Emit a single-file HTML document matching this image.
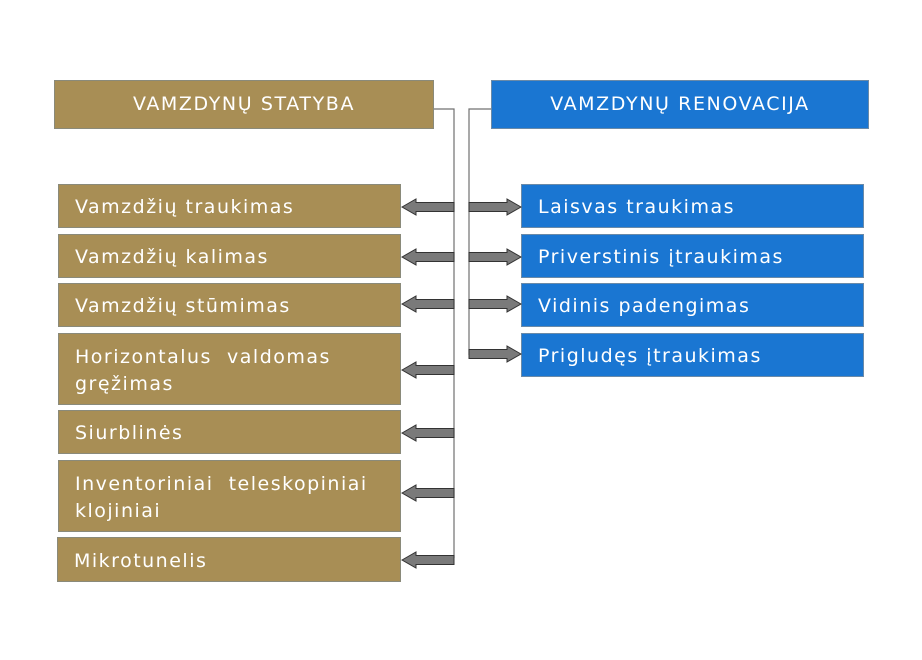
<!DOCTYPE html>
<html><head><meta charset="utf-8"><style>
body{margin:0;width:922px;height:660px;background:#fff;position:relative;overflow:hidden;font-family:"DejaVu Sans","Liberation Sans",sans-serif;}
.b{position:absolute;color:#fff;box-sizing:border-box;border:1px solid #8a8a7a;font-size:19px;letter-spacing:1.5px;line-height:27px;padding-left:16px;padding-top:3px;display:flex;align-items:center;}
.br{background:#A88E55;}
.bl{background:#1A76D2;border-color:#6a8aa8;}
.h{justify-content:center;padding-left:0;padding-top:0;font-size:19px;letter-spacing:1.6px;}
svg{position:absolute;left:0;top:0;}
</style></head><body>
<div class="b br h" style="left:54px;top:80px;width:380px;height:49px;">VAMZDYNŲ STATYBA</div>
<div class="b bl h" style="left:491px;top:80px;width:378px;height:49px;">VAMZDYNŲ RENOVACIJA</div>

<div class="b br" style="left:58px;top:184px;width:343px;height:44px;">Vamzdžių traukimas</div>
<div class="b br" style="left:58px;top:234px;width:343px;height:44px;">Vamzdžių kalimas</div>
<div class="b br" style="left:58px;top:283px;width:343px;height:44px;">Vamzdžių stūmimas</div>
<div class="b br" style="left:58px;top:333px;width:343px;height:72px;">Horizontalus&nbsp; valdomas<br>gręžimas</div>
<div class="b br" style="left:58px;top:410px;width:343px;height:44px;">Siurblinės</div>
<div class="b br" style="left:58px;top:460px;width:343px;height:72px;">Inventoriniai&nbsp; teleskopiniai<br>klojiniai</div>
<div class="b br" style="left:57px;top:537px;width:344px;height:45px;">Mikrotunelis</div>

<div class="b bl" style="left:521px;top:184px;width:343px;height:44px;">Laisvas traukimas</div>
<div class="b bl" style="left:521px;top:234px;width:343px;height:44px;">Priverstinis įtraukimas</div>
<div class="b bl" style="left:521px;top:283px;width:343px;height:44px;">Vidinis padengimas</div>
<div class="b bl" style="left:521px;top:333px;width:343px;height:44px;">Prigludęs įtraukimas</div>

<svg width="922" height="660">
<g stroke="#707070" stroke-width="1.2" fill="none">
<polyline points="434,109 454,109 454,558"/>
<polyline points="491,109 469,109 469,355"/>
</g>
<defs>
<path id="al" d="M0,0 L14,-8 L14,-4.5 L52,-4.5 L52,4.5 L14,4.5 L14,8 Z" fill="#7a7a7a" stroke="#333" stroke-width="1"/>
<path id="ar" d="M0,0 L-14,-8 L-14,-4.5 L-52,-4.5 L-52,4.5 L-14,4.5 L-14,8 Z" fill="#7a7a7a" stroke="#333" stroke-width="1"/>
</defs>
<use href="#al" x="402" y="207"/>
<use href="#al" x="402" y="257"/>
<use href="#al" x="402" y="304"/>
<use href="#al" x="402" y="370"/>
<use href="#al" x="402" y="433"/>
<use href="#al" x="402" y="493"/>
<use href="#al" x="402" y="560"/>
<use href="#ar" x="521" y="207"/>
<use href="#ar" x="521" y="257"/>
<use href="#ar" x="521" y="304"/>
<use href="#ar" x="521" y="354"/>
</svg>
</body></html>
